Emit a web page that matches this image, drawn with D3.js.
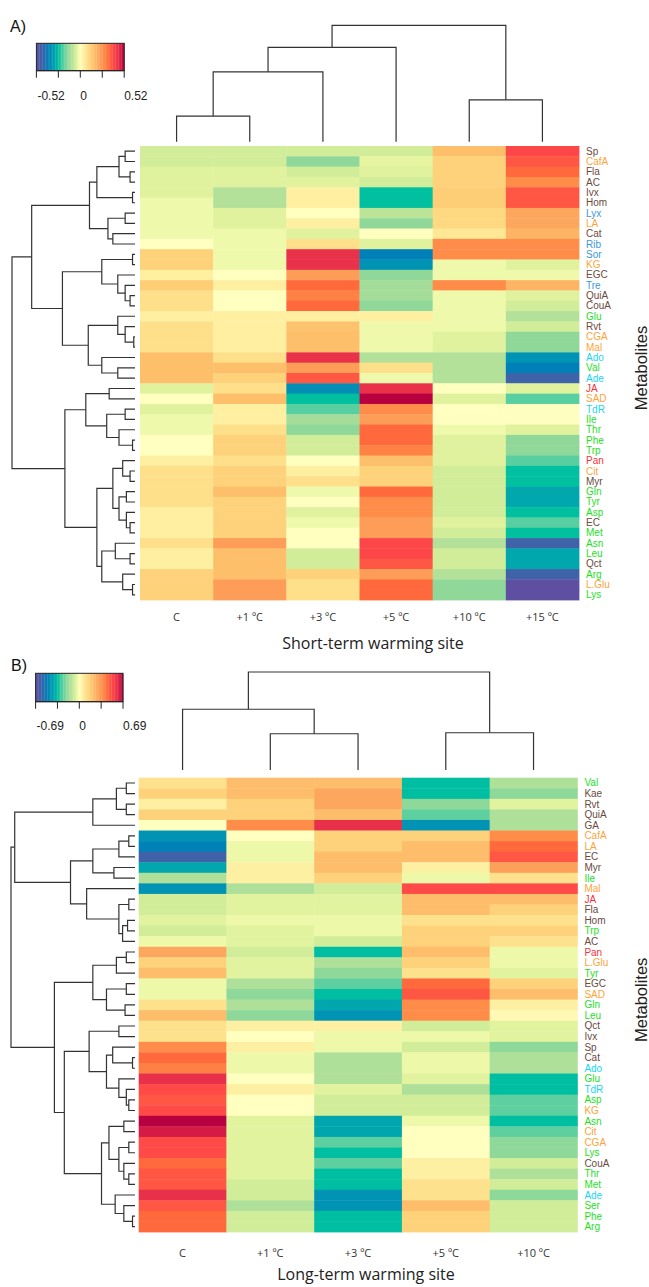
<!DOCTYPE html>
<meta charset="utf-8">
<style>
body { margin: 0; background: #fff; }
svg { display: block; }
.dendro path { fill: none; stroke: #333; stroke-width: 1.2; }
.rowlab { font: 10px "Liberation Sans", Arial, sans-serif; }
.collab { font: 11px "Open Sans", sans-serif; fill: #333; }
.title { font: 16px "Open Sans", sans-serif; fill: #222; }
.ylab { font: 16.5px "Liberation Sans", Arial, sans-serif; fill: #222; }
.tag { font: 16px "Liberation Sans", Arial, sans-serif; fill: #111; }
.key text { font: 12px "Liberation Sans", Arial, sans-serif; fill: #222; }
.key line, .key rect.frame { stroke: #222; fill: none; }
</style>
<body>
<script src="https://cdn.jsdelivr.net/npm/d3@7"></script>
<script>

// metabolite classes (label colours)
var classOf = {
  amino: ["Glu","Val","Ile","Thr","Phe","Trp","Gln","Tyr","Asp","Met","Asn","Leu","Arg","Lys","Ser"],
  nucleo: ["Ado","Ade","TdR"],
  acid: ["CafA","LA","KG","CGA","Mal","SAD","Cit","L.Glu"],
  sugar: ["Lyx","Rib","Sor","Tre"],
  other: ["JA","Pan"]
};
var classColor = {amino: "#1ee01e", nucleo: "#19d6f5", acid: "#fca43a", sugar: "#3d97d8", other: "#f5333a", phenol: "#6b4a3e"};

// ---- panel A : short-term warming site ----
var colsA = ["C", "+1 ºC", "+3 ºC", "+5 ºC", "+10 ºC", "+15 ºC"];
var rowsA = ["Sp","CafA","Fla","AC","Ivx","Hom","Lyx","LA","Cat","Rib","Sor","KG","EGC","Tre","QuiA","CouA",
  "Glu","Rvt","CGA","Mal","Ado","Val","Ade","JA","SAD","TdR","Ile","Thr","Phe","Trp","Pan","Cit","Myr",
  "Gln","Tyr","Asp","EC","Met","Asn","Leu","Qct","Arg","L.Glu","Lys"];
var valuesA = [
  [-0.06,-0.06,-0.06,-0.06, 0.17, 0.40],
  [-0.06,-0.06,-0.15,-0.03, 0.12, 0.37],
  [-0.04,-0.04,-0.06,-0.04, 0.12, 0.34],
  [-0.04,-0.04,-0.04,-0.06, 0.12, 0.28],
  [-0.04,-0.10, 0.04,-0.26, 0.13, 0.37],
  [-0.02,-0.10, 0.04,-0.26, 0.13, 0.37],
  [-0.02,-0.04, 0.00,-0.09, 0.10, 0.22],
  [-0.02,-0.04, 0.04,-0.15, 0.10, 0.22],
  [-0.02,-0.02,-0.04, 0.00, 0.06, 0.19],
  [ 0.00,-0.02, 0.08,-0.04, 0.28, 0.28],
  [ 0.12,-0.02, 0.45,-0.38, 0.28, 0.28],
  [ 0.12,-0.02, 0.45,-0.34,-0.02,-0.04],
  [ 0.04, 0.00, 0.24,-0.15,-0.02,-0.02],
  [ 0.13, 0.04, 0.34,-0.12, 0.28, 0.19],
  [ 0.08, 0.00, 0.30,-0.12,-0.02,-0.04],
  [ 0.08, 0.00, 0.34,-0.15,-0.02,-0.06],
  [ 0.04, 0.04, 0.04, 0.04,-0.02,-0.10],
  [ 0.08, 0.04, 0.16,-0.02,-0.02,-0.06],
  [ 0.08, 0.04, 0.17,-0.02,-0.04,-0.15],
  [ 0.08, 0.04, 0.17,-0.02,-0.04,-0.15],
  [ 0.17, 0.08, 0.45,-0.10,-0.10,-0.34],
  [ 0.17, 0.17, 0.24, 0.08,-0.10,-0.38],
  [ 0.17, 0.12, 0.37,-0.02,-0.10,-0.45],
  [-0.04, 0.08,-0.35, 0.45, 0.00,-0.04],
  [ 0.00, 0.17,-0.26, 0.52,-0.04,-0.20],
  [-0.04, 0.04,-0.20, 0.28, 0.00, 0.00],
  [-0.02, 0.04,-0.12, 0.24, 0.00, 0.00],
  [-0.02, 0.08,-0.15, 0.34,-0.02,-0.04],
  [ 0.00, 0.12,-0.06, 0.34,-0.04,-0.15],
  [ 0.00, 0.12,-0.06, 0.30,-0.04,-0.15],
  [ 0.04, 0.08, 0.00, 0.17,-0.04,-0.20],
  [ 0.08, 0.12, 0.04, 0.12,-0.06,-0.26],
  [ 0.08, 0.12, 0.08, 0.12,-0.06,-0.26],
  [ 0.08, 0.17,-0.02, 0.34,-0.06,-0.30],
  [ 0.08, 0.12, 0.00, 0.28,-0.06,-0.30],
  [ 0.04, 0.12,-0.04, 0.28,-0.06,-0.26],
  [ 0.04, 0.12,-0.02, 0.24,-0.04,-0.20],
  [ 0.04, 0.12, 0.00, 0.24,-0.06,-0.26],
  [ 0.08, 0.24, 0.00, 0.40,-0.10,-0.45],
  [ 0.04, 0.17,-0.06, 0.40,-0.06,-0.30],
  [ 0.04, 0.17,-0.06, 0.37,-0.06,-0.30],
  [ 0.12, 0.17, 0.12, 0.24,-0.10,-0.45],
  [ 0.12, 0.24, 0.08, 0.34,-0.15,-0.52],
  [ 0.12, 0.24, 0.08, 0.34,-0.15,-0.52]
];
// trees: [height, left, right], leaves are names; height 1 = root
var rowTreeA = [1.0,
  [0.84,
    [0.37,
      [0.31, [0.13, [0.08,"Sp","CafA"], [0.04,"Fla","AC"]], [0.02,"Ivx","Hom"]],
      [0.22, [0.08,"Lyx","LA"], [0.18,"Cat","Rib"]]],
    [0.59,
      [0.27, [0.02,"Sor","KG"], [0.14,"EGC",[0.08,"Tre",[0.04,"QuiA","CouA"]]]],
      [0.38, [0.14,"Glu",[0.08,"Rvt",[0.01,"CGA","Mal"]]], [0.27,"Ado",[0.14,"Val","Ade"]]]]],
  [0.57,
    [0.40, [0.21,"JA","SAD"], [0.23,[0.08,"TdR","Ile"],[0.13,"Thr",[0.02,"Phe","Trp"]]]],
    [0.31,
      [0.18, [0.10,"Pan",[0.04,"Cit","Myr"]], [0.13,[0.07,"Gln","Tyr"],[0.07,"Asp",[0.04,"EC","Met"]]]],
      [0.27, [0.16,"Asn",[0.04,"Leu","Qct"]], [0.10,"Arg",[0.02,"L.Glu","Lys"]]]]]];
var colTreeA = [1.0, [0.81, [0.60, [0.22,"C","+1 ºC"], "+3 ºC"], "+5 ºC"], [0.36,"+10 ºC","+15 ºC"]];
var keyMaxA = 0.52;

// ---- panel B : long-term warming site ----
var colsB = ["C", "+1 ºC", "+3 ºC", "+5 ºC", "+10 ºC"];
var rowsB = ["Val","Kae","Rvt","QuiA","GA","CafA","LA","EC","Myr","Ile","Mal","JA","Fla","Hom","Trp","AC",
  "Pan","L.Glu","Tyr","EGC","SAD","Gln","Leu","Qct","Ivx","Sp","Cat","Ado","Glu","TdR","Asp","KG",
  "Asn","Cit","CGA","Lys","CouA","Thr","Met","Ade","Ser","Phe","Arg"];
var valuesB = [
  [ 0.10, 0.23, 0.23,-0.35,-0.14],
  [ 0.16, 0.23, 0.29,-0.35,-0.20],
  [ 0.05, 0.16, 0.29,-0.20,-0.05],
  [ 0.16, 0.16, 0.23,-0.26,-0.14],
  [ 0.00, 0.37, 0.60,-0.45,-0.14],
  [-0.45, 0.00, 0.16, 0.16, 0.37],
  [-0.50,-0.03, 0.16, 0.23, 0.45],
  [-0.60,-0.03, 0.23, 0.23, 0.49],
  [-0.40, 0.05, 0.23, 0.05, 0.31],
  [-0.14, 0.05, 0.16,-0.03, 0.10],
  [-0.45,-0.14,-0.08, 0.52, 0.52],
  [-0.08,-0.05,-0.05, 0.23, 0.23],
  [-0.08,-0.05,-0.05, 0.23, 0.16],
  [-0.05,-0.03,-0.03, 0.10, 0.10],
  [-0.08,-0.05,-0.03, 0.16, 0.16],
  [-0.03,-0.05,-0.08, 0.16, 0.10],
  [ 0.29,-0.08,-0.35, 0.23,-0.03],
  [ 0.16,-0.05,-0.14, 0.16,-0.03],
  [ 0.23,-0.05,-0.20, 0.10,-0.05],
  [-0.03,-0.14,-0.26, 0.45, 0.16],
  [-0.03,-0.20,-0.35, 0.49, 0.23],
  [ 0.10,-0.14,-0.40, 0.37, 0.05],
  [ 0.23,-0.20,-0.45, 0.37, 0.02],
  [ 0.10, 0.05, 0.05,-0.08,-0.05],
  [ 0.10, 0.00,-0.03,-0.03,-0.05],
  [ 0.37, 0.05,-0.03,-0.08,-0.20],
  [ 0.45,-0.03,-0.14,-0.03,-0.14],
  [ 0.40,-0.03,-0.14,-0.03,-0.14],
  [ 0.60, 0.00,-0.14,-0.05,-0.35],
  [ 0.52, 0.05,-0.05,-0.14,-0.35],
  [ 0.49, 0.00,-0.08,-0.08,-0.26],
  [ 0.52, 0.00,-0.08,-0.08,-0.26],
  [ 0.69,-0.05,-0.40,-0.03,-0.35],
  [ 0.64,-0.05,-0.40, 0.00,-0.26],
  [ 0.52,-0.05,-0.26, 0.00,-0.20],
  [ 0.52,-0.05,-0.35, 0.00,-0.20],
  [ 0.45,-0.05,-0.26, 0.05,-0.08],
  [ 0.49,-0.05,-0.35, 0.05,-0.14],
  [ 0.49,-0.08,-0.35, 0.10,-0.08],
  [ 0.60,-0.08,-0.45, 0.10,-0.20],
  [ 0.49,-0.14,-0.45, 0.23,-0.08],
  [ 0.45,-0.08,-0.35, 0.16,-0.08],
  [ 0.45,-0.08,-0.35, 0.16,-0.08]
];
var rowTreeB = [1.0,
  [0.97,
    [0.34, [0.15,[0.07,"Val","Kae"],[0.07,"Rvt","QuiA"]], "GA"],
    [0.52,
      [0.34, [0.13,[0.05,"CafA","LA"],"EC"], [0.17,"Myr","Ile"]],
      [0.39, "Mal", [0.13,[0.05,"JA","Fla"],[0.10,[0.06,"Hom","Trp"],"AC"]]]]],
  [0.65,
    [0.34, [0.15,[0.07,"Pan","L.Glu"],"Tyr"], [0.23,[0.07,"EGC","SAD"],[0.08,"Gln","Leu"]]],
    [0.57,
      [0.37, [0.13,"Qct","Ivx"], [0.23,[0.18,"Sp",[0.02,"Cat","Ado"]],[0.13,"Glu",[0.07,"TdR",[0.05,"Asp","KG"]]]]],
      [0.27,
        [0.21,[0.09,"Asn","Cit"],[0.13,[0.05,"CGA","Lys"],[0.09,"CouA",[0.05,"Thr","Met"]]]],
        [0.16,"Ade",[0.09,"Ser",[0.02,"Phe","Arg"]]]]]]];
var colTreeB = [1.0, [0.62, "C", [0.37,"+1 ºC","+3 ºC"]], [0.38,"+5 ºC","+10 ºC"]];
var keyMaxB = 0.69;

// colour ramp, stops as fraction of key max
var rampStops = [-1, -0.87, -0.73, -0.6, -0.5, -0.38, -0.29, -0.2, -0.12, -0.06, 0,
                 0.08, 0.15, 0.23, 0.33, 0.45, 0.54, 0.65, 0.76, 0.87, 1];
var rampColors = ["#5e4fa2","#4062a8","#0080b8","#00a0b0","#00c0a0","#5cd0a0","#8ed89a","#b0e09a","#d0ec98","#e6f5a0","#ffffc0",
                  "#feeea0","#fee08b","#fed27a","#fdbe6a","#fda05a","#ff8c48","#ff6a3c","#ff4848","#e8304a","#b80040"];

function labelColor(name) {
  for (var k in classOf) if (classOf[k].indexOf(name) >= 0) return classColor[k];
  return classColor.phenol;
}

var svg = d3.select("body").append("svg").attr("width", 649).attr("height", 1287);

function drawPanel(p) {
  var g = svg.append("g");
  var color = d3.scaleLinear()
      .domain(rampStops.map(function(s) { return s * p.keyMax; }))
      .range(rampColors)
      .interpolate(d3.interpolateRgb);

  var x = d3.scaleBand().domain(p.cols).range([p.hx0, p.hx1]);
  var y = d3.scaleBand().domain(p.rows).range([p.hy0, p.hy1]);

  // heatmap cells
  p.rows.forEach(function(r, i) {
    g.selectAll(null)
        .data(p.values[i])
      .enter().append("rect")
        .attr("x", function(d, j) { return x(p.cols[j]); })
        .attr("y", y(r))
        .attr("width", x.bandwidth() + 0.4)
        .attr("height", y.bandwidth() + 0.4)
        .attr("fill", function(d) { return color(d); });
  });

  // row labels
  g.selectAll(".rowlab")
      .data(p.rows)
    .enter().append("text")
      .attr("class", "rowlab")
      .attr("x", p.hx1 + 7)
      .attr("y", function(d) { return y(d) + y.bandwidth() / 2; })
      .attr("dy", "0.35em")
      .attr("fill", labelColor)
      .text(function(d) { return d; });

  // column labels
  g.selectAll(".collab")
      .data(p.cols)
    .enter().append("text")
      .attr("class", "collab")
      .attr("x", function(d) { return x(d) + x.bandwidth() / 2; })
      .attr("y", p.colLabY)
      .attr("dy", "0.35em")
      .attr("text-anchor", "middle")
      .text(function(d) { return d; });

  g.append("text").attr("class", "title")
      .attr("x", p.titleX).attr("y", p.titleY).attr("dy", "0.35em")
      .attr("text-anchor", "middle").text(p.title);

  g.append("text").attr("class", "ylab")
      .attr("transform", "translate(" + p.ylabX + "," + ((p.hy0 + p.hy1) / 2 - 5) + ") rotate(-90)")
      .attr("dy", "0.35em").attr("text-anchor", "middle").text("Metabolites");

  g.append("text").attr("class", "tag")
      .attr("x", p.tagX).attr("y", p.tagY).attr("dy", "0.35em").text(p.tag);

  // dendrograms
  function dendro(tree, leafPos, hScale, vertical) {
    var root = d3.hierarchy(tree, function(d) { return Array.isArray(d) ? d.slice(1) : null; });
    root.eachAfter(function(n) {
      if (n.children) {
        n.h = n.data[0];
        n.pos = d3.mean(n.children, function(c) { return c.pos; });
      } else {
        n.h = 0;
        n.pos = leafPos(n.data);
      }
    });
    var paths = [];
    root.each(function(n) {
      if (!n.children) return;
      var a = n.children[0], b = n.children[1];
      if (vertical) {
        paths.push("M" + a.pos + "," + hScale(a.h) + "V" + hScale(n.h) + "H" + b.pos + "V" + hScale(b.h));
      } else {
        paths.push("M" + hScale(a.h) + "," + a.pos + "H" + hScale(n.h) + "V" + b.pos + "H" + hScale(b.h));
      }
    });
    g.append("g").attr("class", "dendro")
      .selectAll("path").data(paths)
      .enter().append("path").attr("d", function(d) { return d; });
  }

  dendro(p.rowTree, function(name) { return y(name) + y.bandwidth() / 2; },
         d3.scaleLinear().domain([0, 1]).range([p.rowLeaf, p.rowRoot]), false);
  dendro(p.colTree, function(name) { return x(name) + x.bandwidth() / 2; },
         d3.scaleLinear().domain([0, 1]).range([p.colLeaf, p.colRoot]), true);

  // colour key
  var kx = d3.scaleLinear().domain([-p.keyMax, p.keyMax]).range([p.kx0, p.kx1]);
  var key = g.append("g").attr("class", "key");
  var steps = d3.range(60).map(function(i) { return -p.keyMax + (i + 0.5) * 2 * p.keyMax / 60; });
  var sw = (p.kx1 - p.kx0) / 60;
  key.selectAll("rect.sw").data(steps)
    .enter().append("rect").attr("class", "sw")
      .attr("x", function(d) { return kx(d) - sw / 2; })
      .attr("y", p.ky0)
      .attr("width", sw + 0.3)
      .attr("height", p.ky1 - p.ky0)
      .attr("fill", function(d) { return color(d); });
  key.append("rect").attr("class", "frame")
      .attr("x", p.kx0).attr("y", p.ky0)
      .attr("width", p.kx1 - p.kx0).attr("height", p.ky1 - p.ky0);
  var ticks = [-1, -0.5, 0, 0.5, 1].map(function(f) { return f * p.keyMax; });
  key.append("line").attr("x1", p.kx0).attr("x2", p.kx1).attr("y1", p.ky1).attr("y2", p.ky1);
  key.selectAll("line.t").data(ticks)
    .enter().append("line").attr("class", "t")
      .attr("x1", kx).attr("x2", kx)
      .attr("y1", p.ky1).attr("y2", p.ky1 + 7);
  key.selectAll("text").data([-p.keyMax, 0, p.keyMax])
    .enter().append("text")
      .attr("x", function(d) { return kx(d) + (d < 0 ? 1 : 0); })
      .attr("y", p.kLabY)
      .attr("dy", "0.35em")
      .text(function(d) { return d === 0 ? "0" : d.toFixed(2); });
}

drawPanel({
  tag: "A)", tagX: 10, tagY: 26,
  cols: colsA, rows: rowsA, values: valuesA, rowTree: rowTreeA, colTree: colTreeA, keyMax: keyMaxA,
  hx0: 140, hx1: 579, hy0: 146, hy1: 600,
  rowLeaf: 135, rowRoot: 12, colLeaf: 141.7, colRoot: 25.3,
  kx0: 36.4, kx1: 124.2, ky0: 43.3, ky1: 70.7, kLabY: 96,
  colLabY: 617, title: "Short-term warming site", titleX: 373, titleY: 643, ylabX: 641
});

drawPanel({
  tag: "B)", tagX: 11, tagY: 665,
  cols: colsB, rows: rowsB, values: valuesB, rowTree: rowTreeB, colTree: colTreeB, keyMax: keyMaxB,
  hx0: 138.7, hx1: 577.4, hy0: 777.7, hy1: 1232,
  rowLeaf: 135, rowRoot: 11, colLeaf: 770, colRoot: 672,
  kx0: 35.6, kx1: 123, ky0: 673.3, ky1: 701.7, kLabY: 726,
  colLabY: 1253, title: "Long-term warming site", titleX: 366, titleY: 1274, ylabX: 641
});

</script>
